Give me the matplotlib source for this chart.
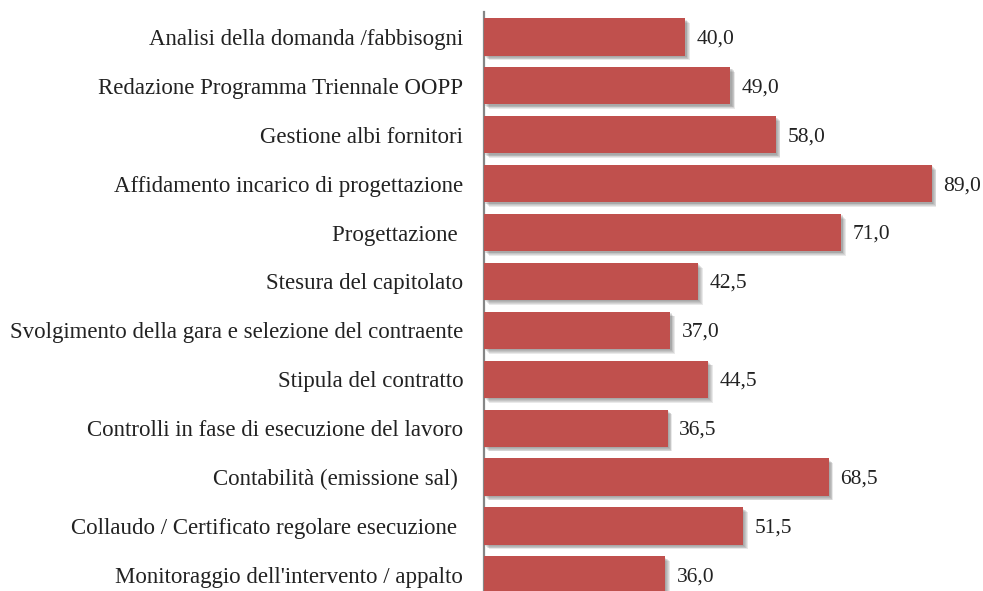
import matplotlib.pyplot as plt
import matplotlib.patheffects as pe

labels = ["Analisi della domanda /fabbisogni",
          "Redazione Programma Triennale OOPP",
          "Gestione albi fornitori",
          "Affidamento incarico di progettazione",
          "Progettazione ",
          "Stesura del capitolato",
          "Svolgimento della gara e selezione del contraente",
          "Stipula del contratto",
          "Controlli in fase di esecuzione del lavoro",
          "Contabilità (emissione sal) ",
          "Collaudo / Certificato regolare esecuzione ",
          "Monitoraggio dell'intervento / appalto"]
values = [40.0, 49.0, 58.0, 89.0, 71.0, 42.5, 37.0, 44.5, 36.5, 68.5, 51.5, 36.0]

plt.rcParams['font.family'] = ['Liberation Serif', 'DejaVu Serif']

fig = plt.figure(figsize=(9.83, 5.91), dpi=100)
ax = fig.add_axes([484/983, 0, 1 - 484/983, 1 - 12/591])

pos = list(range(len(values)))
bars = ax.barh(pos, values, height=0.76, color='#C0504D', zorder=3)
# soft shadow: a few stacked offsets
shadow = []
for d in [1.0, 1.6, 2.2, 2.8, 3.4]:
    shadow.append(pe.SimplePatchShadow(offset=(d, -d), shadow_rgbFace='#555555', alpha=0.13))
for b in bars:
    b.set_path_effects(shadow + [pe.Normal()])

for p, v in zip(pos, values):
    ax.text(v + 2.3, p + 0.04, f"{v:.1f}".replace('.', ','), va='center', ha='left',
            fontsize=15.5, color='#222222', clip_on=False)

ax.set_yticks(pos)
ax.set_yticklabels(labels, fontsize=16.5, color='#222222')
ax.tick_params(axis='y', length=0, pad=15)
ax.set_xticks([])
ax.set_xlim(0, 99.2)
ax.set_ylim(11.33, -0.51)

for s in ['top', 'right', 'bottom']:
    ax.spines[s].set_visible(False)
ax.spines['left'].set_color('#868686')
ax.spines['left'].set_linewidth(1.6)

fig.savefig('out.png', dpi=100)
